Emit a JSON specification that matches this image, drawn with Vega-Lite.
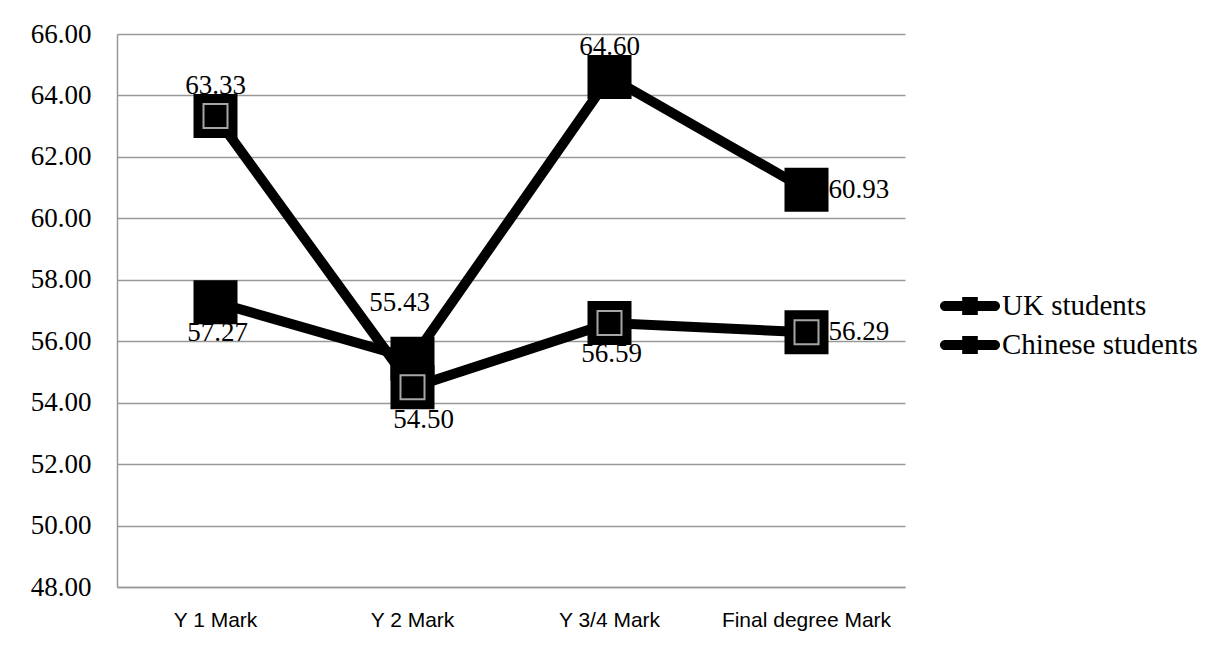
{
  "$schema": "https://vega.github.io/schema/vega-lite/v6.json",
  "autosize": {"type": "none"},
  "width": 788,
  "height": 553,
  "padding": {"left": 117, "top": 34, "right": 300, "bottom": 62},
  "background": "white",
  "config": {
    "view": {"stroke": null},
    "font": "Liberation Serif"
  },
  "data": {
    "values": [
      {"cat": "Y 1 Mark", "series": "UK students", "value": 63.33},
      {"cat": "Y 2 Mark", "series": "UK students", "value": 54.50},
      {"cat": "Y 3/4 Mark", "series": "UK students", "value": 56.59},
      {"cat": "Final degree Mark", "series": "UK students", "value": 56.29},
      {"cat": "Y 1 Mark", "series": "Chinese students", "value": 57.27},
      {"cat": "Y 2 Mark", "series": "Chinese students", "value": 55.43},
      {"cat": "Y 3/4 Mark", "series": "Chinese students", "value": 64.60},
      {"cat": "Final degree Mark", "series": "Chinese students", "value": 60.93}
    ]
  },
  "encoding": {
    "x": {
      "field": "cat", "type": "nominal",
      "sort": ["Y 1 Mark", "Y 2 Mark", "Y 3/4 Mark", "Final degree Mark"],
      "scale": {"type": "band", "paddingInner": 0, "paddingOuter": 0},
      "axis": {
        "title": null, "labelAngle": 0, "ticks": false, "grid": false,
        "domainColor": "#999999", "domainWidth": 1.5,
        "labelFont": "Liberation Sans", "labelFontSize": 21, "labelColor": "black",
        "labelPadding": 22
      }
    },
    "y": {
      "field": "value", "type": "quantitative",
      "scale": {"domain": [48, 66], "nice": false, "zero": false},
      "axis": {
        "title": null, "values": [48, 50, 52, 54, 56, 58, 60, 62, 64, 66],
        "format": ".2f", "ticks": false,
        "grid": true, "gridColor": "#999999", "gridWidth": 1.5,
        "domainColor": "#999999", "domainWidth": 1.5,
        "labelFont": "Liberation Serif", "labelFontSize": 27, "labelColor": "black",
        "labelPadding": 26
      }
    }
  },
  "layer": [
    {
      "mark": {"type": "line", "strokeWidth": 10, "strokeJoin": "miter"},
      "encoding": {
        "color": {
          "field": "series", "type": "nominal",
          "sort": ["UK students", "Chinese students"],
          "scale": {"range": ["black", "black"]},
          "legend": {
            "title": null, "orient": "none", "legendX": 838, "legendY": 257,
            "padding": 0, "symbolType": "M-1.66,-0.34 L1.66,-0.34 A0.34,0.34 0 0 1 1.66,0.34 L-1.66,0.34 A0.34,0.34 0 0 1 -1.66,-0.34 Z M-0.52,-0.6 L0.52,-0.6 L0.52,0.6 L-0.52,0.6 Z",
            "symbolSize": 900, "symbolFillColor": "black", "symbolStrokeWidth": 0,
            "labelFont": "Liberation Serif", "labelFontSize": 29, "labelColor": "black",
            "rowPadding": 9, "labelOffset": 17, "labelLimit": 300
          }
        }
      }
    },
    {
      "mark": {"type": "point", "shape": "square", "filled": true, "size": 1936, "color": "black", "opacity": 1}
    },
    {
      "transform": [{"filter": "datum.series === 'UK students'"}],
      "mark": {"type": "point", "shape": "square", "filled": false, "size": 576, "stroke": "#a6a6a6", "strokeWidth": 2, "opacity": 1}
    },
    {
      "transform": [{"filter": "(datum.series === 'UK students' && datum.cat === 'Y 1 Mark') || (datum.series === 'Chinese students' && datum.cat === 'Y 3/4 Mark')"}],
      "mark": {"type": "text", "dy": -30, "baseline": "middle", "align": "center", "fontSize": 27, "font": "Liberation Serif", "color": "black"},
      "encoding": {"text": {"field": "value", "type": "quantitative", "format": ".2f"}}
    },
    {
      "transform": [{"filter": "datum.series === 'Chinese students' && datum.cat === 'Y 2 Mark'"}],
      "mark": {"type": "text", "dy": -56, "dx": -13, "baseline": "middle", "align": "center", "fontSize": 27, "font": "Liberation Serif", "color": "black"},
      "encoding": {"text": {"field": "value", "type": "quantitative", "format": ".2f"}}
    },
    {
      "transform": [{"filter": "(datum.series === 'Chinese students' && datum.cat === 'Y 1 Mark') || (datum.series === 'UK students' && datum.cat === 'Y 3/4 Mark')"}],
      "mark": {"type": "text", "dy": 31, "dx": 2, "baseline": "middle", "align": "center", "fontSize": 27, "font": "Liberation Serif", "color": "black"},
      "encoding": {"text": {"field": "value", "type": "quantitative", "format": ".2f"}}
    },
    {
      "transform": [{"filter": "datum.series === 'UK students' && datum.cat === 'Y 2 Mark'"}],
      "mark": {"type": "text", "dy": 33, "dx": 11, "baseline": "middle", "align": "center", "fontSize": 27, "font": "Liberation Serif", "color": "black"},
      "encoding": {"text": {"field": "value", "type": "quantitative", "format": ".2f"}}
    },
    {
      "transform": [{"filter": "datum.cat === 'Final degree Mark'"}],
      "mark": {"type": "text", "dx": 22, "baseline": "middle", "align": "left", "fontSize": 27, "font": "Liberation Serif", "color": "black"},
      "encoding": {"text": {"field": "value", "type": "quantitative", "format": ".2f"}}
    }
  ]
}
